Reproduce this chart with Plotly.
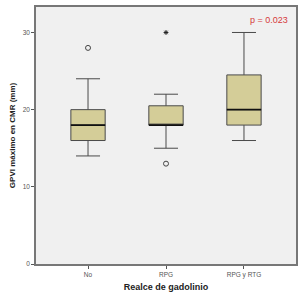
import plotly.graph_objects as go

categories = ["No", "RPG", "RPG y RTG"]
q1 = [16, 18, 18]
median = [18, 18, 20]
q3 = [20, 20.5, 24.5]
lower_whisker = [14, 15, 16]
upper_whisker = [24, 22, 30]
circle_outliers_x = ["No", "RPG"]
circle_outliers_y = [28, 13]
star_outliers_x = ["RPG"]
star_outliers_y = [30]
y_ticks = [0, 10, 20, 30]
p_text = "p = 0.023"

pos = {c: i for i, c in enumerate(categories)}
box_w = 0.44
fill = "#d4cd98"
edge = "#4a4a4a"

fig = go.Figure()
for i, c in enumerate(categories):
    fig.add_trace(go.Box(
        x=[i], q1=[q1[i]], median=[median[i]], q3=[q3[i]],
        lowerfence=[lower_whisker[i]], upperfence=[upper_whisker[i]],
        width=box_w, whiskerwidth=0.7, fillcolor=fill,
        line=dict(color=edge, width=1), boxpoints=False, showlegend=False,
        hoverinfo="skip"))
    fig.add_trace(go.Scatter(
        x=[i - box_w / 2, i + box_w / 2], y=[median[i], median[i]],
        mode="lines", line=dict(color="#111111", width=1.8), showlegend=False,
        hoverinfo="skip"))

fig.add_trace(go.Scatter(
    x=[pos[c] for c in circle_outliers_x], y=circle_outliers_y, mode="markers",
    marker=dict(symbol="circle-open", size=5, color="#444444", line=dict(width=1)),
    showlegend=False))
fig.add_trace(go.Scatter(
    x=[pos[c] for c in star_outliers_x], y=star_outliers_y, mode="markers",
    marker=dict(symbol="asterisk", size=4, color="#222222", line=dict(width=1, color="#222222")),
    showlegend=False))

fig.add_annotation(x=1, xref="paper", y=1, yref="paper", text=p_text,
                   showarrow=False, xanchor="right", yanchor="top", xshift=-6, yshift=-6,
                   font=dict(family="Arial, Liberation Sans", size=9, color="#d63a3a"))

fig.update_layout(
    width=304, height=300,
    margin=dict(l=36, r=8, t=5, b=36),
    paper_bgcolor="white", plot_bgcolor="#f0f0f0",
    font=dict(family="Arial, Liberation Sans", color="#555555"),
)
fig.update_xaxes(
    range=[-0.667, 2.667], tickvals=list(range(len(categories))), ticktext=categories,
    ticks="outside", ticklen=3, tickcolor="#555555", tickfont=dict(size=6.5, color="#555555"),
    showgrid=False, zeroline=False, showline=True, linecolor="#777777", linewidth=1.5, mirror=True,
    title=dict(text="<b>Realce de gadolinio</b>", font=dict(size=9, color="#222222"), standoff=6))
fig.update_yaxes(
    range=[0, 33.3], tickvals=y_ticks, ticks="outside", ticklen=3, tickcolor="#555555",
    tickfont=dict(size=6.5, color="#555555"),
    showgrid=False, zeroline=False, showline=True, linecolor="#777777", linewidth=1.5, mirror=True,
    title=dict(text="<b>GPVI máximo en CMR (mm)</b>", font=dict(size=8, color="#222222"), standoff=6))

fig.write_html("out.html")
